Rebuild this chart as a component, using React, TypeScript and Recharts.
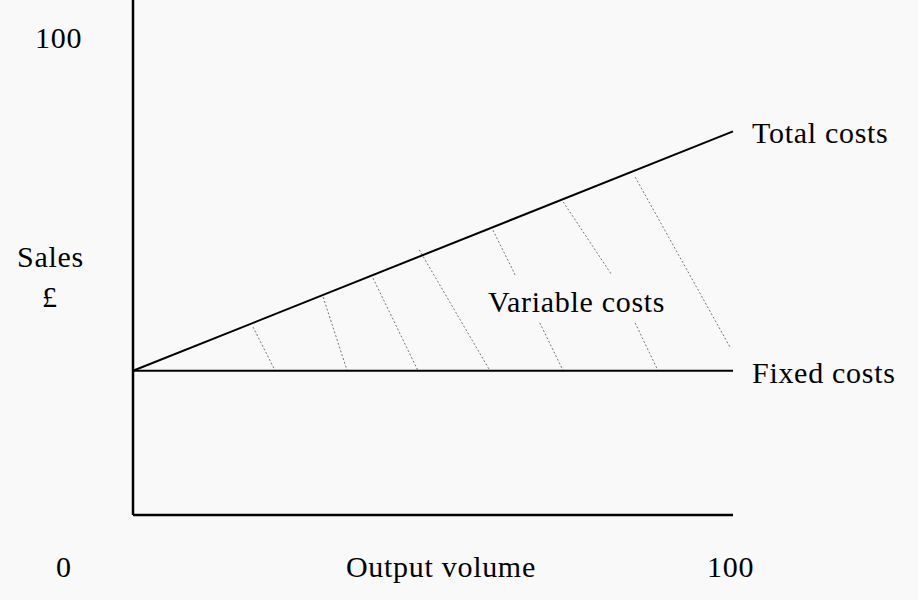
import React from "react";
import {
  LineChart,
  Line,
  XAxis,
  YAxis,
  ReferenceLine,
} from "recharts";

const volume = [0, 100];
const fixedCosts = [28, 28];
const totalCosts = [28, 74.5];

// hatching under the total cost line (start / end points, data units)
const hatchX1 = [20, 31.7, 40, 47.7, 60, 67.8, 71.7, 83.7, 83.7];
const hatchY1 = [36.5, 42.3, 46, 51.5, 55.3, 37.3, 60.8, 37.3, 65.6];
const hatchX2 = [23.7, 35.7, 47.5, 59.5, 63.7, 71.7, 79.8, 87.5, 99.5];
const hatchY2 = [28, 28, 28, 28, 46.6, 28, 46.6, 28, 32.6];

const data = volume.map((v, i) => ({
  volume: v,
  fixed: fixedCosts[i],
  total: totalCosts[i],
}));

const font = '"Liberation Serif", "Times New Roman", serif';

export default function App() {
  return (
    <div
      style={{
        position: "absolute",
        left: 0,
        top: 0,
        width: 918,
        height: 600,
        background: "#f9f9f9",
      }}
    >
      <LineChart
        width={918}
        height={600}
        data={data}
        margin={{ top: 0, right: 185, bottom: 85, left: 133 }}
      >
        <XAxis
          dataKey="volume"
          type="number"
          domain={[0, 100]}
          height={0}
          hide
        />
        <YAxis type="number" domain={[0, 100]} width={0} hide />
        {/* axes */}
        <ReferenceLine x={0} stroke="#000" strokeWidth={2.5} />
        <ReferenceLine y={0} stroke="#000" strokeWidth={2.5} />
        {hatchX1.map((x, i) => (
          <ReferenceLine
            key={i}
            segment={[
              { x, y: hatchY1[i] },
              { x: hatchX2[i], y: hatchY2[i] },
            ]}
            stroke="#777"
            strokeWidth={1}
            strokeDasharray="2 2"
          />
        ))}
        <Line
          dataKey="fixed"
          stroke="#000"
          strokeWidth={2}
          dot={false}
          isAnimationActive={false}
        />
        <Line
          dataKey="total"
          stroke="#000"
          strokeWidth={2}
          dot={false}
          isAnimationActive={false}
        />
      </LineChart>

      <svg
        width={918}
        height={600}
        style={{ position: "absolute", left: 0, top: 0, pointerEvents: "none" }}
        fontFamily={font}
        fontSize={30}
        fill="#000"
        letterSpacing={0.7}
      >
        <text x={35} y={48}>100</text>
        <text x={17} y={267}>Sales</text>
        <text x={42} y={307}>£</text>
        <text x={56} y={577}>0</text>
        <text x={346} y={577}>Output volume</text>
        <text x={707} y={577}>100</text>
        <text x={752} y={143}>Total costs</text>
        <text x={752} y={383}>Fixed costs</text>
        <text x={488} y={312}>Variable costs</text>
      </svg>
    </div>
  );
}
